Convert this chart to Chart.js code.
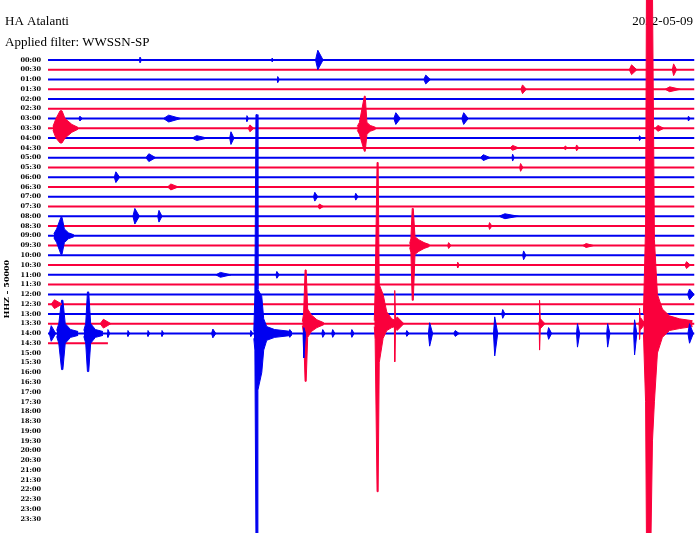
<!DOCTYPE html>
<html lang="en">
<head>
<meta charset="UTF-8">
<title>HA Atalanti helicorder</title>
<script src="https://cdn.jsdelivr.net/npm/chart.js"></script>
<style>
  body { margin: 0; background: #fff; }
  .wrap { width: 700px; height: 533px; position: relative; }
</style>
</head>
<body>
<div class="wrap"><canvas id="heli"></canvas></div>
<script>
  const station = 'HA Atalanti';
  const filterName = 'Applied filter: WWSSN-SP';
  const dayLabel = '2022-05-09';
  const channelLabel = 'HHZ \u2013 50000';

  // one trace line every 30 minutes
  const hours = [
    '00:00','00:30','01:00','01:30','02:00','02:30','03:00','03:30',
    '04:00','04:30','05:00','05:30','06:00','06:30','07:00','07:30',
    '08:00','08:30','09:00','09:30','10:00','10:30','11:00','11:30',
    '12:00','12:30','13:00','13:30','14:00','14:30','15:00','15:30',
    '16:00','16:30','17:00','17:30','18:00','18:30','19:00','19:30',
    '20:00','20:30','21:00','21:30','22:00','22:30','23:00','23:30'
  ];

  // minutes recorded on each trace line (the 14:30 line is still running)
  const traceEnds = [
    30, 30, 30, 30, 30, 30, 30, 30, 30, 30,
    30, 30, 30, 30, 30, 30, 30, 30, 30, 30,
    30, 30, 30, 30, 30, 30, 30, 30, 30, 2.78
  ];

  // small arrivals: [line, minute, amplitude up, amplitude down, duration (min)]
  // amplitudes are in line spacings
  const smallEvents = [
    [0, 4.27, 0.3, 0.3, 0.1], [0, 10.4, 0.2, 0.2, 0.1], [0, 12.52, 1.0, 1.0, 0.35],
    [1, 27.08, 0.5, 0.5, 0.35], [1, 29.03, 0.6, 0.6, 0.2],
    [2, 10.66, 0.3, 0.3, 0.1], [2, 17.53, 0.45, 0.45, 0.3],
    [3, 22.02, 0.45, 0.45, 0.25], [3, 28.85, 0.25, 0.25, 0.7],
    [6, 1.48, 0.25, 0.25, 0.15], [6, 5.6, 0.35, 0.35, 0.8], [6, 9.23, 0.3, 0.3, 0.1],
    [6, 16.14, 0.6, 0.6, 0.3], [6, 19.29, 0.6, 0.6, 0.3], [6, 29.72, 0.25, 0.25, 0.1],
    [7, 9.37, 0.35, 0.35, 0.25], [7, 28.3, 0.3, 0.3, 0.4],
    [8, 6.9, 0.25, 0.25, 0.7], [8, 8.49, 0.65, 0.65, 0.2], [8, 27.45, 0.25, 0.25, 0.1],
    [9, 21.56, 0.25, 0.25, 0.4], [9, 24.0, 0.2, 0.2, 0.15], [9, 24.53, 0.3, 0.3, 0.15],
    [10, 4.68, 0.4, 0.4, 0.45], [10, 20.2, 0.3, 0.3, 0.45], [10, 21.56, 0.35, 0.35, 0.1],
    [11, 21.93, 0.4, 0.4, 0.15],
    [12, 3.15, 0.55, 0.55, 0.25],
    [13, 5.7, 0.3, 0.3, 0.5],
    [14, 12.38, 0.45, 0.45, 0.2], [14, 14.28, 0.35, 0.35, 0.15],
    [15, 12.6, 0.25, 0.25, 0.25],
    [16, 4.03, 0.8, 0.8, 0.3], [16, 5.15, 0.6, 0.6, 0.2], [16, 21.2, 0.25, 0.25, 0.9],
    [17, 20.49, 0.35, 0.35, 0.15],
    [19, 18.59, 0.3, 0.3, 0.15], [19, 24.97, 0.2, 0.2, 0.5],
    [20, 22.07, 0.45, 0.45, 0.15],
    [21, 19.01, 0.3, 0.3, 0.1], [21, 29.63, 0.35, 0.35, 0.25],
    [22, 8.0, 0.25, 0.25, 0.7], [22, 10.62, 0.35, 0.35, 0.15],
    [24, 29.77, 0.55, 0.55, 0.3],
    [25, 0.3, 0.45, 0.45, 0.5],
    [26, 21.10, 0.45, 0.45, 0.15],
    [27, 2.57, 0.45, 0.45, 0.5], [27, 16.09, 3.4, 3.9, 0.06], [27, 16.2, 0.7, 0.7, 0.45],
    [27, 22.81, 2.4, 2.7, 0.06], [27, 22.85, 0.5, 0.5, 0.3],
    [27, 27.45, 1.6, 1.6, 0.06], [27, 27.5, 0.6, 0.6, 0.3],
    [28, 0.15, 0.8, 0.8, 0.3], [28, 2.78, 0.4, 0.4, 0.12], [28, 3.71, 0.3, 0.3, 0.12],
    [28, 4.64, 0.3, 0.3, 0.12], [28, 5.29, 0.3, 0.3, 0.12], [28, 7.65, 0.45, 0.45, 0.2],
    [28, 9.41, 0.3, 0.3, 0.12], [28, 11.22, 0.4, 0.4, 0.15], [28, 11.87, 0.6, 2.5, 0.12],
    [28, 12.75, 0.4, 0.4, 0.15], [28, 13.21, 0.4, 0.4, 0.15], [28, 14.10, 0.4, 0.4, 0.15],
    [28, 16.65, 0.3, 0.3, 0.15], [28, 17.71, 1.1, 1.3, 0.2], [28, 18.9, 0.3, 0.3, 0.25],
    [28, 20.73, 1.7, 2.3, 0.2], [28, 23.23, 0.6, 0.6, 0.2], [28, 24.57, 1.0, 1.4, 0.15],
    [28, 25.97, 1.0, 1.4, 0.15], [28, 27.22, 1.4, 2.2, 0.15], [28, 29.77, 1.0, 1.0, 0.25]
  ];

  // larger quakes, envelope: [line, minutes, up, down]
  const bigEvents = [
    [7, [0.23, 0.37, 0.56, 0.65, 0.79, 1.11, 1.39],
        [0.2, 1.0, 1.8, 1.8, 1.0, 0.4, 0.1],
        [0.2, 1.0, 1.5, 1.5, 1.0, 0.4, 0.1]],
    [7, [14.35, 14.45, 14.68, 14.72, 14.8, 14.95, 15.20],
        [0.2, 0.6, 3.3, 3.3, 0.6, 0.3, 0.1],
        [0.2, 0.6, 2.35, 2.35, 0.6, 0.3, 0.1]],
    [18, [0.27, 0.40, 0.60, 0.65, 0.76, 0.95, 1.20],
         [0.2, 0.7, 1.9, 1.9, 0.7, 0.3, 0.1],
         [0.2, 0.7, 1.9, 1.9, 0.7, 0.3, 0.1]],
    [19, [16.78, 16.84, 16.90, 16.95, 17.03, 17.20, 17.45, 17.70],
         [0.2, 0.7, 3.8, 3.8, 0.9, 0.6, 0.3, 0.1],
         [0.2, 0.7, 5.6, 5.6, 0.9, 0.6, 0.3, 0.1]],
    [27, [11.80, 11.86, 11.93, 11.98, 12.05, 12.22, 12.48, 12.80],
         [0.2, 1.0, 5.5, 5.5, 1.5, 0.9, 0.4, 0.1],
         [0.2, 1.0, 5.9, 5.9, 1.4, 0.8, 0.4, 0.1]],
    [27, [15.14, 15.18, 15.27, 15.32, 15.37, 15.55, 15.72, 15.95, 16.25],
         [0.3, 3.5, 16.5, 16.5, 4.0, 3.0, 1.2, 0.5, 0.2],
         [0.3, 1.6, 17.2, 17.2, 4.0, 1.5, 0.7, 0.4, 0.2]],
    [27, [27.63, 27.73, 27.77, 27.86, 27.98, 28.05, 28.14, 28.28, 28.51, 28.84, 29.30, 29.91],
         [1.0, 10, 34, 34, 34, 34, 8.6, 3.0, 1.5, 0.8, 0.5, 0.3],
         [1.0, 8, 22, 22, 22, 12, 8, 3, 1.4, 0.7, 0.5, 0.3]],
    [28, [0.40, 0.50, 0.63, 0.69, 0.80, 1.05, 1.40],
         [0.3, 1.0, 3.4, 3.4, 1.0, 0.4, 0.2],
         [0.3, 1.0, 3.7, 3.7, 1.0, 0.4, 0.2]],
    [28, [1.66, 1.75, 1.83, 1.89, 1.98, 2.20, 2.55],
         [0.3, 1.0, 4.25, 4.25, 1.0, 0.4, 0.2],
         [0.3, 1.0, 3.9, 3.9, 1.0, 0.4, 0.2]],
    [28, [9.55, 9.60, 9.65, 9.71, 9.74, 9.92, 10.01, 10.15, 10.52, 11.31],
         [0.2, 4.0, 22.4, 22.4, 4.5, 3.8, 1.5, 0.7, 0.4, 0.2],
         [0.5, 1.7, 21, 21, 5.8, 4.0, 1.7, 0.7, 0.4, 0.2]]
  ];

  const blue = 'rgb(0, 0, 240)';
  const red = 'rgb(250, 0, 60)';
  function rowColor(r) { return r % 2 ? red : blue; }

  const datasets = [];

  traceEnds.forEach((end, r) => {
    datasets.push({
      data: [{ x: 0, y: r }, { x: end, y: r }],
      borderColor: rowColor(r),
      borderWidth: 2,
      order: 2
    });
  });

  // upper edge + lower edge filled between them
  function addEnvelope(row, ts, ups, dns) {
    const c = rowColor(row);
    datasets.push({
      data: ts.map((t, i) => ({ x: t, y: row - ups[i] })),
      borderColor: c, borderWidth: 1, fill: false, order: 1
    });
    datasets.push({
      data: ts.map((t, i) => ({ x: t, y: row + dns[i] })),
      borderColor: c, borderWidth: 1, backgroundColor: c, fill: '-1', order: 1
    });
  }

  smallEvents.forEach(([row, t, up, dn, w]) => {
    addEnvelope(row, [t - 0.3 * w, t, t + 0.7 * w], [0, up, 0], [0, dn, 0]);
  });
  bigEvents.forEach(([row, ts, ups, dns]) => addEnvelope(row, ts, ups, dns));

  const textPlugin = {
    id: 'heliText',
    beforeDatasetsDraw(chart) {
      const ctx = chart.ctx;
      ctx.save();
      ctx.fillStyle = '#000';
      ctx.font = '13px "Liberation Serif"';
      ctx.textAlign = 'left';
      ctx.textBaseline = 'alphabetic';
      ctx.fillText(station, 5, 25);
      ctx.fillText(filterName, 5, 46);
      ctx.textAlign = 'right';
      ctx.fillText(dayLabel, 693, 25);
      ctx.translate(7, 289);
      ctx.rotate(-Math.PI / 2);
      ctx.textAlign = 'center';
      ctx.textBaseline = 'middle';
      ctx.font = 'bold 8px "DejaVu Serif"';
      ctx.fillText(channelLabel, 0, 0);
      ctx.restore();
    }
  };

  new Chart(document.getElementById('heli'), {
    type: 'line',
    data: { datasets },
    options: {
      responsive: true,
      maintainAspectRatio: false,
      animation: false,
      events: [],
      layout: { padding: { left: 0, right: 5.5, top: 0, bottom: 0 } },
      elements: {
        point: { radius: 0 },
        line: { tension: 0 }
      },
      plugins: {
        legend: { display: false },
        tooltip: { enabled: false }
      },
      scales: {
        x: { type: 'linear', min: 0, max: 30, display: false },
        y: {
          type: 'linear',
          reverse: true,
          min: -6.14,
          max: 48.43,
          grid: { display: false, drawTicks: false },
          border: { display: false },
          afterFit: s => { s.width = 48; s.paddingTop = 0; s.paddingBottom = 0; },
          afterBuildTicks: s => { s.ticks = hours.map((h, i) => ({ value: i })); },
          ticks: {
            autoSkip: false,
            padding: 7,
            color: '#000',
            font: { family: 'DejaVu Serif', size: 6.5, weight: 'bold' },
            callback: v => hours[v]
          }
        }
      }
    },
    plugins: [textPlugin]
  });
</script>
</body>
</html>
